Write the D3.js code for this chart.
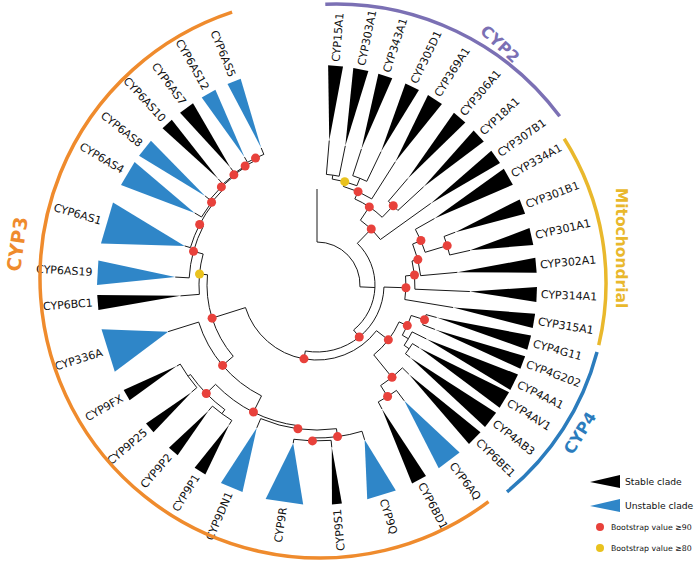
<!DOCTYPE html>
<html><head><meta charset="utf-8">
<script src="https://cdn.jsdelivr.net/npm/d3@7/dist/d3.min.js"></script>
<style>body{margin:0;background:#fff}svg{display:block}</style>
</head><body>
<script>
// ---------------- DATA ----------------
const leafNames = ["CYP15A1","CYP303A1","CYP343A1","CYP305D1","CYP369A1","CYP306A1","CYP18A1","CYP307B1","CYP334A1",
 "CYP301B1","CYP301A1","CYP302A1","CYP314A1","CYP315A1","CYP4G11","CYP4G202","CYP4AA1","CYP4AV1","CYP4AB3","CYP6BE1",
 "CYP6AQ","CYP6BD1","CYP9Q","CYP9S1","CYP9R","CYP9DN1","CYP9P1","CYP9P2","CYP9P25","CYP9FX","CYP336A","CYP6BC1",
 "CYP6AS19","CYP6AS1","CYP6AS4","CYP6AS8","CYP6AS10","CYP6AS7","CYP6AS12","CYP6AS5"];
// angular extent of each collapsed clade (degrees, clockwise from top)
const cladeStart = [2.9,9.5,16.2,23.7,30.3,38.5,45.4,52.4,58.1,67.1,75.0,82.9,90.5,97.5,103.3,108.9,114.0,119.2,125.5,132.0,
 139.6,150.3,159.0,173.5,183.6,199.8,210.5,219.3,228.0,238.4,246.8,263.5,270.0,280.9,297.0,306.0,315.4,321.5,328.4,336.0];
const cladeEnd = [6.8,13.5,20.0,27.6,34.6,42.4,49.3,56.3,62.9,71.1,79.5,86.8,94.4,101.3,107.1,112.4,118.5,123.9,130.2,136.3,
 146.4,154.4,166.8,176.1,193.5,205.9,213.8,222.3,231.0,241.5,258.4,267.4,276.4,292.0,304.0,311.0,318.7,325.7,332.5,339.7];
// S = stable clade, U = unstable clade
const cladeType = ["S","S","S","S","S","S","S","S","S","S","S","S","S","S","S","S","S","S","S","S",
 "U","S","U","S","U","U","S","S","S","S","U","S","U","U","U","U","S","S","U","U"];
// distance from root to the clade's own node
const tipDepth = [145,142,143,148,146,140,145,140,135,148,157,141,153,138,124,126,122,120,118,128,
 145,140,162,163,160,155,165,166,165,162,156,137,142,138,142,143,145,146,147,148];
const cladeDepth = 220; // distance of the collapsed clades' far side

// unlabelled root branch
const outgroupAngle = 0, outgroupDepth = 96;

// internal nodes
const nodeIds = ["A","B","Y","R1","R3","R2","R4","M1","M2","M3","M4","M5","C1","C1a","C1b","C2","G1","G0","C3",
 "N9a","N9b","N9c","N9p1","N9p2","N9p","N9d","N9e","S1","S2","S3","S4","S5","S6","S7","S8","W","V","Q","P","ROOT"];
const nodeKids = [
 ["CYP15A1","CYP303A1"],["CYP343A1","CYP305D1"],["A","B"],["Y","CYP369A1"],["CYP306A1","CYP18A1"],["R1","R3"],["R2","CYP307B1"],
 ["CYP301B1","CYP301A1"],["CYP334A1","M1"],["M2","CYP302A1"],["M3","CYP314A1"],["M4","CYP315A1"],
 ["CYP4G11","CYP4G202"],["CYP4AV1","CYP4AB3"],["CYP4AA1","C1a"],["C1","C1b"],["CYP6AQ","CYP6BD1"],["CYP6BE1","G1"],["C2","G0"],
 ["CYP9S1","CYP9R"],["CYP9Q","N9a"],["N9b","CYP9DN1"],["CYP9P1","CYP9P2"],["CYP9P25","CYP9FX"],["N9p1","N9p2"],["N9c","N9p"],["N9d","CYP336A"],
 ["CYP6AS12","CYP6AS5"],["CYP6AS7","S1"],["CYP6AS10","S2"],["CYP6AS8","S3"],["CYP6AS4","S4"],["CYP6AS1","S5"],["CYP6AS19","S6"],["CYP6BC1","S7"],
 ["N9e","S8"],["C3","W"],["M5","V"],["R4","Q"],["OUT","P"]];
const nodeDepth = [111,115,107,102,110,94,78,136,113,104,98,89,113,112,106,99,132,119,90,
 156,153,145,160,158,155,142,124,141,139,138,137,134,132,128,118,110,75,67,58,43];
// bootstrap: 90 = >=90 (red), 80 = >=80 (yellow), 0 = not shown
const nodeSupport = [0,0,80,90,90,90,90,90,90,90,90,90,90,0,0,90,90,90,90,
 90,90,90,0,0,90,90,90,90,90,90,90,90,90,90,80,90,90,90,0,0];

// group annotations
const groupNames = ["CYP2","Mitochondrial","CYP4","CYP3"];
const groupStart = [-2.2,57.7,104.8,143];
const groupEnd = [53.3,103.3,140.7,341.7];
const groupColors = ["#7b70b4","#e9b82c","#2b7cbd","#ef8b2d"];

const legendLabels = ["Stable clade","Unstable clade","Bootstrap value \u226590","Bootstrap value \u226580"];

// ---------------- DRAW ----------------
const W = 696, H = 564;
const cx = 317, cy = 285;
const colStable = "#000000", colUnstable = "#2f86c8", colRed = "#e8413b", colYellow = "#e9c21e";
const svg = d3.select("body").append("svg").attr("width", W).attr("height", H);
const g = svg.append("g").attr("transform", `translate(${cx},${cy})`);
const ang = d3.scaleLinear().domain([0, 360]).range([0, 2 * Math.PI]);
const rad = d3.scaleLinear().domain([0, 220]).range([0, 220]);
const pt = (deg, r) => { const a = ang(deg); return [rad(r) * Math.sin(a), -rad(r) * Math.cos(a)]; };

const info = {};
leafNames.forEach((n, i) => info[n] = {leaf: true, angle: (cladeStart[i] + cladeEnd[i]) / 2, depth: tipDepth[i], i});
info.OUT = {leaf: true, stub: true, angle: outgroupAngle, depth: outgroupDepth};
nodeIds.forEach((id, i) => info[id] = {leaf: false, kids: nodeKids[i], depth: nodeDepth[i], support: nodeSupport[i]});
nodeIds.forEach((id) => info[id].kids.forEach(k => info[k].parent = id));
function angleOf(id) {
  const o = info[id];
  if (o.angle !== undefined) return o.angle;
  const a = angleOf(o.kids[0]), b = angleOf(o.kids[o.kids.length - 1]);
  o.angle = (a + b) / 2; return o.angle;
}
nodeIds.forEach(angleOf);

const lines = g.append("g").attr("fill", "none").attr("stroke", "#1a1a1a").attr("stroke-width", 1);
// radial branches
Object.keys(info).forEach(id => {
  const o = info[id];
  if (!o.parent) return;
  const pr = info[o.parent].depth;
  const p = d3.path();
  const a = pt(o.angle, pr), b = pt(o.angle, o.depth);
  p.moveTo(a[0], a[1]); p.lineTo(b[0], b[1]);
  lines.append("path").attr("d", p.toString());
});
// arcs
nodeIds.forEach(id => {
  const o = info[id];
  const a0 = info[o.kids[0]].angle, a1 = info[o.kids[o.kids.length - 1]].angle;
  const p = d3.path();
  const s = pt(a0, o.depth);
  p.moveTo(s[0], s[1]);
  p.arc(0, 0, rad(o.depth), ang(a0) - Math.PI / 2, ang(a1) - Math.PI / 2, false);
  lines.append("path").attr("d", p.toString());
});

// collapsed clades
const tri = d3.line();
g.append("g").selectAll("path").data(leafNames).join("path")
  .attr("d", (n, i) => tri([pt(info[n].angle, tipDepth[i]), pt(cladeStart[i], cladeDepth), pt(cladeEnd[i], cladeDepth)]) + "Z")
  .attr("fill", (n, i) => cladeType[i] === "S" ? colStable : colUnstable);

// labels
g.append("g").attr("font-family", "DejaVu Sans, Verdana, sans-serif").attr("font-size", 11).attr("fill", "#111")
  .selectAll("text").data(leafNames).join("text")
  .attr("dominant-baseline", "central")
  .attr("text-anchor", (n) => info[n].angle < 170 ? "start" : "end")
  .attr("transform", (n) => {
    const a = info[n].angle;
    return a < 170 ? `rotate(${a - 90}) translate(${rad(cladeDepth + 4)},0)` : `rotate(${a + 90}) translate(${-rad(cladeDepth + 5)},0)`;
  })
  .text(d => d);

// bootstrap dots
g.append("g").selectAll("circle").data(nodeIds.filter(id => info[id].support > 0)).join("circle")
  .attr("cx", id => pt(info[id].angle, info[id].depth)[0])
  .attr("cy", id => pt(info[id].angle, info[id].depth)[1])
  .attr("r", 4.5)
  .attr("fill", id => info[id].support >= 90 ? colRed : colYellow);

// group arcs
const groupCenter = [[336, 283], [336, 283], [336, 283], [320, 278]];
const groupRadius = [279, 270, 270, 280];
groupNames.forEach((name, i) => {
  const [gx, gy] = groupCenter[i];
  const p = d3.path();
  const a0 = ang(groupStart[i]) - Math.PI / 2, a1 = ang(groupEnd[i]) - Math.PI / 2;
  p.moveTo(gx + groupRadius[i] * Math.cos(a0), gy + groupRadius[i] * Math.sin(a0));
  p.arc(gx, gy, groupRadius[i], a0, a1, false);
  svg.append("path").attr("d", p.toString()).attr("fill", "none").attr("stroke", groupColors[i]).attr("stroke-width", 3.5);
});
// group labels
const groupLabelPos = [[500, 44, 43, 16], [621, 248, 90, 15.5], [580, 433, -58, 16], [17, 244, -82, 19]];
groupNames.forEach((name, i) => {
  const [x, y, r, fs] = groupLabelPos[i];
  svg.append("text").attr("transform", `translate(${x},${y}) rotate(${r})`)
    .attr("text-anchor", "middle").attr("dominant-baseline", "central")
    .attr("font-family", "DejaVu Sans, Verdana, sans-serif").attr("font-weight", "bold").attr("font-size", fs)
    .attr("fill", groupColors[i]).text(name);
});

// legend
const lg = svg.append("g").attr("font-family", "DejaVu Sans, Verdana, sans-serif").attr("fill", "#111");
[0, 1].forEach(k => {
  const y = 481 + k * 24;
  lg.append("path").attr("d", tri([[590, y + 1], [620, y - 6], [620, y + 7]]) + "Z").attr("fill", k === 0 ? colStable : colUnstable);
  lg.append("text").attr("x", 625).attr("y", y).attr("dominant-baseline", "central").attr("font-size", 9.2).text(legendLabels[k]);
});
[0, 1].forEach(k => {
  const y = 527 + k * 21;
  lg.append("circle").attr("cx", 600).attr("cy", y).attr("r", 4).attr("fill", k === 0 ? colRed : colYellow);
  lg.append("text").attr("x", 611).attr("y", y).attr("dominant-baseline", "central").attr("font-size", 7.8).text(legendLabels[k + 2]);
});
</script>
</body></html>
